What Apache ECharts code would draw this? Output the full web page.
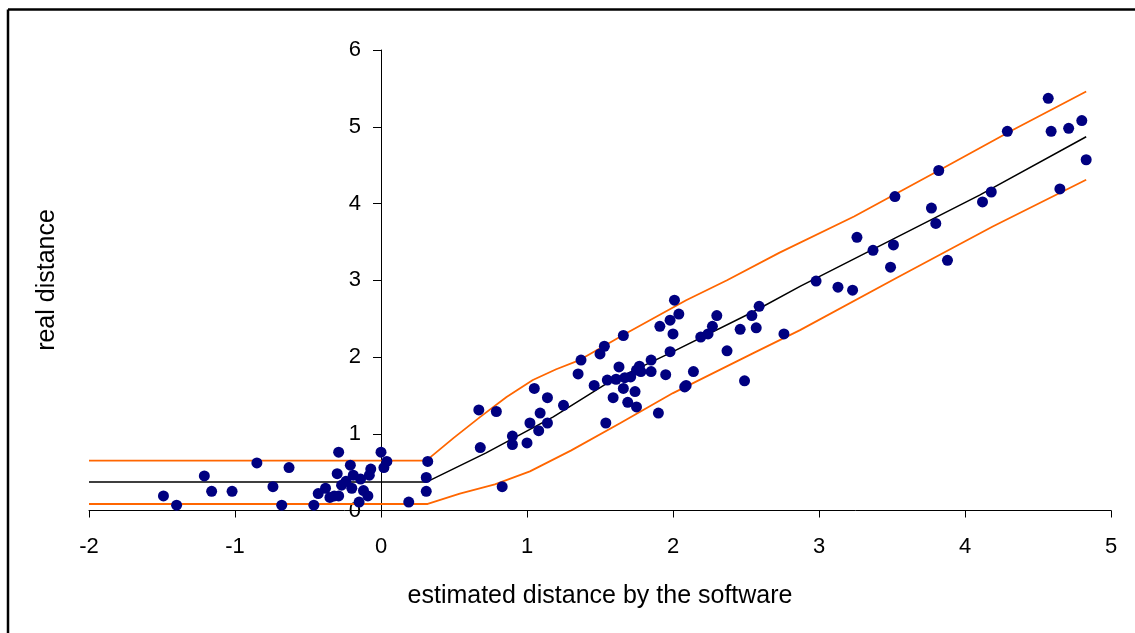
<!DOCTYPE html>
<html>
<head>
<meta charset="utf-8">
<script src="https://cdn.jsdelivr.net/npm/echarts@6/dist/echarts.min.js"></script>
<style>
  html, body { margin: 0; padding: 0; background: #fff; }
  #chart { width: 1135px; height: 633px; }
</style>
</head>
<body>
<div id="chart"></div>
<script>
// Measured points: estimated distance (software) vs. real distance
const estimated = [
  -1.49, -1.40, -1.21, -1.16, -1.02, -0.85, -0.74, -0.68, -0.63, -0.46,
  -0.43, -0.38, -0.35, -0.32, -0.29, -0.29, -0.30, -0.27, -0.21, -0.24,
  -0.19, -0.20, -0.14, -0.12, -0.15, -0.09, -0.08, -0.07, 0.00, 0.02,
  0.04, 0.19, 0.32, 0.31, 0.31,
  0.67, 0.79, 0.68, 0.83, 0.90, 0.90, 1.00, 1.02, 1.05, 1.08,
  1.09, 1.14, 1.14, 1.25, 1.35, 1.37, 1.46, 1.50, 1.53, 1.54,
  1.55, 1.59, 1.61, 1.63, 1.66, 1.66, 1.67, 1.69, 1.71, 1.74,
  1.75, 1.75, 1.77, 1.78, 1.85, 1.85, 1.90, 1.91, 1.95, 1.98,
  2.00, 1.98, 2.01, 2.04, 2.08, 2.09, 2.14, 2.19, 2.24, 2.27,
  2.30, 2.37, 2.46, 2.49, 2.54, 2.57, 2.59, 2.76,
  2.98, 3.13, 3.23, 3.26, 3.37, 3.49, 3.51, 3.52, 3.77, 3.80,
  3.82, 3.88, 4.12, 4.18, 4.29, 4.57, 4.59, 4.65, 4.71, 4.80, 4.83
];
const real = [
  0.19, 0.07, 0.45, 0.25, 0.25, 0.62, 0.31, 0.07, 0.56, 0.07,
  0.22, 0.29, 0.17, 0.19, 0.19, 0.76, 0.48, 0.33, 0.59, 0.38,
  0.46, 0.29, 0.41, 0.26, 0.11, 0.19, 0.46, 0.54, 0.76, 0.56,
  0.64, 0.11, 0.64, 0.43, 0.25,
  1.31, 1.29, 0.82, 0.31, 0.97, 0.86, 0.88, 1.14, 1.59, 1.04,
  1.27, 1.14, 1.47, 1.37, 1.78, 1.96, 1.63, 2.04, 2.14, 1.14,
  1.70, 1.47, 1.71, 1.87, 2.28, 1.59, 1.73, 1.41, 1.74, 1.55,
  1.83, 1.35, 1.88, 1.81, 1.96, 1.81, 1.27, 2.40, 1.77, 2.48,
  2.30, 2.07, 2.74, 2.56, 1.61, 1.63, 1.81, 2.26, 2.30, 2.40,
  2.54, 2.08, 2.36, 1.69, 2.54, 2.38, 2.66, 2.30,
  2.99, 2.91, 2.87, 3.56, 3.39, 3.17, 3.46, 4.09, 3.94, 3.74,
  4.43, 3.26, 4.02, 4.15, 4.94, 5.37, 4.94, 4.19, 4.98, 5.08, 4.57
];

// Fitted curve and its upper / lower bands
const fitX   = [-2, 0.31, 0.72, 1.18, 1.55, 2.00, 2.55, 2.87, 3.49, 4.10, 4.83];
const fitY   = [0.37, 0.37, 0.75, 1.22, 1.66, 2.07, 2.59, 2.92, 3.52, 4.11, 4.87];
const upperX = [-2, 0.31, 0.50, 0.68, 0.86, 1.04, 1.20, 1.36, 1.68, 2.09, 2.37, 2.73, 3.24, 3.83, 4.33, 4.83];
const upperY = [0.65, 0.65, 0.95, 1.22, 1.48, 1.70, 1.84, 1.96, 2.31, 2.74, 3.00, 3.36, 3.83, 4.44, 4.96, 5.46];
const lowerX = [-2, 0.32, 0.54, 0.78, 1.02, 1.30, 1.64, 2.00, 2.55, 2.87, 3.53, 4.19, 4.83];
const lowerY = [0.085, 0.085, 0.22, 0.34, 0.51, 0.78, 1.14, 1.53, 2.05, 2.35, 3.03, 3.70, 4.31];

const xTicks = { min: -2, max: 5, step: 1 };
const yTicks = { min: 0, max: 6, step: 1 };

const pairs = (xs, ys) => xs.map((x, i) => [x, ys[i]]);

const FONT = 'Liberation Sans';
const GRID = { left: 89, right: 24, top: 50, bottom: 122.5 };
const PLOT_W = 1135 - GRID.left - GRID.right;
// shift the vertical axis so it crosses the horizontal one at x = 0
const yAxisShift = -PLOT_W * (0 - xTicks.min) / (xTicks.max - xTicks.min);

const chart = echarts.init(document.getElementById('chart'), null, { renderer: 'canvas' });

chart.setOption({
  backgroundColor: '#ffffff',
  animation: false,
  grid: GRID,
  xAxis: {
    type: 'value',
    min: xTicks.min, max: xTicks.max, interval: xTicks.step,
    name: 'estimated distance by the software',
    nameLocation: 'middle',
    nameGap: 73,
    nameTextStyle: { fontFamily: FONT, fontSize: 25, color: '#000' },
    axisLine: { onZero: true, lineStyle: { color: '#000', width: 1 } },
    axisTick: { show: true, length: 7, inside: false, lineStyle: { color: '#000' } },
    axisLabel: { margin: 25, fontFamily: FONT, fontSize: 22, color: '#000' },
    splitLine: { show: false }
  },
  yAxis: {
    type: 'value',
    position: 'left',
    offset: yAxisShift,
    min: yTicks.min, max: yTicks.max, interval: yTicks.step,
    axisLine: { onZero: false, lineStyle: { color: '#000', width: 1 } },
    axisTick: { show: true, length: 8, inside: false, lineStyle: { color: '#000' } },
    axisLabel: { margin: 20, fontFamily: FONT, fontSize: 22, color: '#000' },
    splitLine: { show: false }
  },
  graphic: [
    { type: 'line', shape: { x1: 8, y1: 9.5, x2: 1135, y2: 9.5 }, style: { stroke: '#000', lineWidth: 2.5 }, silent: true },
    { type: 'line', shape: { x1: 8, y1: 9.5, x2: 8, y2: 633 }, style: { stroke: '#000', lineWidth: 2.5 }, silent: true },
    {
      type: 'text', x: 47, y: 280, rotation: Math.PI / 2,
      style: { text: 'real distance', fontFamily: FONT, fontSize: 25, fill: '#000', align: 'center', verticalAlign: 'middle' },
      silent: true
    }
  ],
  series: [
    {
      type: 'line', data: pairs(upperX, upperY), symbol: 'none', smooth: false,
      lineStyle: { color: '#FF6600', width: 1.8 }, z: 2
    },
    {
      type: 'line', data: pairs(lowerX, lowerY), symbol: 'none', smooth: false,
      lineStyle: { color: '#FF6600', width: 1.8 }, z: 2
    },
    {
      type: 'line', data: pairs(fitX, fitY), symbol: 'none', smooth: false,
      lineStyle: { color: '#000000', width: 1.5 }, z: 2
    },
    {
      type: 'scatter', data: pairs(estimated, real), symbol: 'circle', symbolSize: 11,
      itemStyle: { color: '#000080', opacity: 1 }, z: 3
    }
  ]
});
</script>
</body>
</html>
